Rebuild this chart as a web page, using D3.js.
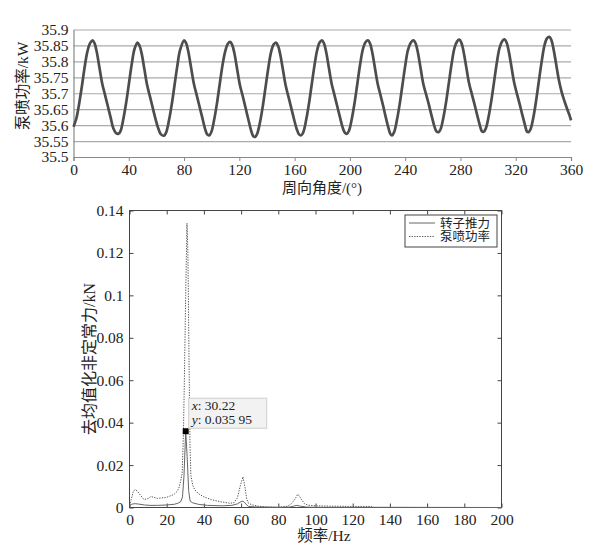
<!DOCTYPE html>
<html><head><meta charset="utf-8">
<script src="https://cdn.jsdelivr.net/npm/d3@7"></script>
<style>
body{margin:0;background:#fff;}
svg{display:block;}
text{font-family:"Liberation Serif","Times New Roman","Noto Sans CJK SC",serif;fill:#222;}
.cjk{font-family:"Liberation Serif","Noto Sans CJK SC",serif;}
</style></head>
<body><svg id="c" width="602" height="552"></svg>
<script>
// ---- Top chart data: pump-jet power vs circumferential angle ----
const topAngles = [0,2,4,6,8,10,12,13.8,15.3,16.8,18.8,20.8,22.8,24.8,26.8,28.8,30.8,32.6,
34.1,36.1,38.1,40.1,42.1,44.1,46.3,47.8,49.3,51.3,53.3,55.3,57.3,59.3,61.3,63.3,65.6,
67.1,69.1,71.1,73.1,75.1,77.1,80.1,81.6,83.1,85.1,87.1,89.1,91.1,93.1,95.1,96.6,98.2,
99.7,101.7,103.7,105.7,107.7,109.7,111.7,113.4,114.9,116.4,118.4,120.4,122.4,124.4,126.4,128.4,130,131.5,
133,135,137,139,141,143,144.8,146.5,148,149.5,151.5,153.5,155.5,157.5,159.5,161.5,163.2,164.8,
166.3,168.3,170.3,172.3,174.3,176.3,178.1,179.8,181.3,182.8,184.8,186.8,188.8,190.8,192.8,194.8,196.4,197.9,
199.4,201.4,203.4,205.4,207.4,209.4,211.3,213.1,214.6,216.1,218.1,220.1,222.1,224.1,226.1,228.1,229.3,230.5,
232,234,236,238,240,242,244.3,246.1,247.6,249.1,251.1,253.1,255.1,257.1,259.1,261.1,262.7,264.2,
265.7,267.7,269.7,271.7,273.7,275.7,277.5,279.2,280.7,282.2,284.2,286.2,288.2,290.2,292.2,294.2,295.5,296.8,
298.3,300.3,302.3,304.3,306.3,308.3,310.2,311.9,313.4,314.9,316.9,318.9,320.9,322.9,324.9,326.9,328.1,329.3,
330.8,332.8,334.8,336.8,338.8,340.8,342.6,344.3,345.8,347.3,349.3,351.3,353.3,355.3,357.3,359,360];
const topPower = [35.595,35.62,35.665,35.72,35.78,35.83,35.857,35.866,35.856,35.83,35.78,35.73,35.695,35.66,35.625,35.59,35.575,35.573,
35.582,35.62,35.67,35.73,35.79,35.838,35.859,35.849,35.825,35.775,35.725,35.69,35.655,35.62,35.59,35.571,35.567,
35.578,35.615,35.665,35.725,35.785,35.835,35.866,35.856,35.83,35.78,35.73,35.695,35.66,35.625,35.59,35.572,35.568,
35.578,35.615,35.665,35.725,35.785,35.83,35.855,35.861,35.851,35.826,35.776,35.726,35.692,35.656,35.62,35.585,35.566,35.563,
35.574,35.61,35.66,35.72,35.78,35.83,35.853,35.859,35.849,35.824,35.775,35.725,35.69,35.655,35.62,35.588,35.571,35.568,
35.578,35.615,35.665,35.725,35.785,35.835,35.859,35.866,35.856,35.83,35.78,35.73,35.695,35.66,35.625,35.592,35.576,35.573,
35.583,35.62,35.67,35.73,35.79,35.838,35.86,35.866,35.856,35.83,35.78,35.73,35.695,35.66,35.622,35.588,35.572,35.568,
35.578,35.615,35.665,35.725,35.785,35.835,35.86,35.866,35.856,35.83,35.78,35.73,35.697,35.665,35.63,35.597,35.58,35.578,
35.588,35.625,35.675,35.735,35.795,35.842,35.862,35.868,35.858,35.832,35.782,35.732,35.698,35.665,35.63,35.597,35.581,35.579,
35.589,35.625,35.675,35.735,35.795,35.842,35.863,35.869,35.859,35.833,35.783,35.733,35.698,35.665,35.63,35.597,35.58,35.578,
35.588,35.625,35.678,35.74,35.8,35.85,35.872,35.877,35.867,35.84,35.79,35.74,35.703,35.675,35.65,35.63,35.615];
const topXTicks = [0,40,80,120,160,200,240,280,320,360];
const topYTicks = [35.5,35.55,35.6,35.65,35.7,35.75,35.8,35.85,35.9];

// ---- Bottom chart data: spectra ----
const thrustFreq = [0,1,2,3,5,8,11,15,20,24,26,27.5,28.5,29.3,30.22,31,31.8,32.6,34,37,42,50,55,58,60,61,62,63,64,67,72,80,86,88,90,92,95,100,130,200];
const thrustVal = [0.0005,0.0015,0.0017,0.0018,0.0016,0.0012,0.001,0.001,0.0012,0.0015,0.002,0.0027,0.005,0.015,0.03595,0.024,0.008,0.003,0.0022,0.0015,0.001,0.0008,0.001,0.0017,0.0028,0.003,0.0022,0.0012,0.0005,0.0003,0.0002,0.0001,0.0002,0.0006,0.001,0.0006,0.0002,0.0001,0.0001,0];
const powerFreq = [0,1,2,3,4,5,7,8,10,11.5,13,15,17,20,22,24,25.5,26.5,27.5,28.3,29,29.5,30.2,30.9,31.4,32,32.5,33,34,35,37,40,44,49,54,56,58,59.5,61,62,63,64,66,70,75,80,85,87,89,90.5,92,94,96,100,110,120,130,131,150,200];
const powerVal = [0.001,0.004,0.0075,0.0085,0.0078,0.0068,0.0045,0.0038,0.0042,0.0052,0.0048,0.0043,0.0045,0.0048,0.0055,0.0062,0.0075,0.009,0.0125,0.016,0.035,0.06,0.1,0.134,0.12,0.07,0.03,0.015,0.0105,0.0085,0.0065,0.005,0.0037,0.0027,0.002,0.0022,0.0045,0.01,0.0145,0.01,0.004,0.002,0.0012,0.0005,0.0002,0.0001,0.0006,0.0018,0.004,0.0063,0.0045,0.0018,0.0011,0.0008,0.0006,0.0005,0.0005,0,0,0];
const botXTicks = [0,20,40,60,80,100,120,140,160,180,200];
const botYTicks = [0,0.02,0.04,0.06,0.08,0.1,0.12,0.14];
const legendNames = ["转子推力","泵喷功率"];
const tipPoint = {x:30.22, y:0.03595, labelX:"30.22", labelY:"0.035 95"};

const svg = d3.select("#c");

// ================= TOP CHART =================
const T = {l:73.5, r:571, t:29.5, b:157};
const tx = d3.scaleLinear().domain([0,360]).range([T.l,T.r]);
const ty = d3.scaleLinear().domain([35.5,35.9]).range([T.b,T.t]);
const gTop = svg.append("g");

gTop.append("g").attr("transform",`translate(${T.l},0)`)
  .call(d3.axisLeft(ty).tickValues(topYTicks).tickSize(-(T.r-T.l)).tickFormat(""))
  .call(g=>g.select(".domain").remove())
  .call(g=>g.selectAll("line").attr("stroke","#aaaaaa").attr("stroke-width",1.2));
gTop.append("g").attr("transform",`translate(${T.l},0)`)
  .call(d3.axisLeft(ty).tickValues(topYTicks).tickSize(0).tickPadding(5).tickFormat(d=>String(d)))
  .call(g=>g.select(".domain").attr("stroke","#888").attr("stroke-width",1.2))
  .call(g=>g.selectAll("text").attr("font-size",15.5).attr("fill","#222").attr("font-family","Liberation Serif"));
gTop.append("g").attr("transform",`translate(0,${T.b})`)
  .call(d3.axisBottom(tx).tickValues(topXTicks).tickSize(4).tickPadding(3).tickFormat(d=>String(d)))
  .call(g=>g.select(".domain").attr("stroke","#888").attr("stroke-width",1.2))
  .call(g=>g.selectAll("line").attr("stroke","#888"))
  .call(g=>g.selectAll("text").attr("font-size",15.5).attr("fill","#222").attr("font-family","Liberation Serif"));

const topData = topAngles.map((a,i)=>[a,topPower[i]]);
gTop.append("path").datum(topData)
  .attr("fill","none").attr("stroke","#4d4d4d").attr("stroke-width",2.7).attr("stroke-linejoin","round")
  .attr("d", d3.line().x(d=>tx(d[0])).y(d=>ty(d[1])).curve(d3.curveCatmullRom));

gTop.append("text").attr("class","cjk").attr("x",322).attr("y",193).attr("text-anchor","middle")
  .attr("font-size",15).text("周向角度/(°)");
gTop.append("text").attr("class","cjk").attr("transform","translate(28,86) rotate(-90)").attr("text-anchor","middle")
  .attr("font-size",15.5).text("泵喷功率/kW");

// ================= BOTTOM CHART =================
const B = {l:129.5, r:501.5, t:210.5, b:507.5};
const bx = d3.scaleLinear().domain([0,200]).range([B.l,B.r]);
const by = d3.scaleLinear().domain([0,0.14]).range([B.b,B.t]);
const gB = svg.append("g");

gB.append("rect").attr("x",B.l).attr("y",B.t).attr("width",B.r-B.l).attr("height",B.b-B.t)
  .attr("fill","none").attr("stroke","#444").attr("stroke-width",1);

const styleAx = g=>{g.select(".domain").remove();
  g.selectAll("line").attr("stroke","#444");
  g.selectAll("text").attr("font-size",15.5).attr("fill","#222").attr("font-family","Liberation Serif");};
gB.append("g").attr("transform",`translate(0,${B.b})`)
  .call(d3.axisBottom(bx).tickValues(botXTicks).tickSizeInner(-4).tickSizeOuter(0).tickPadding(6).tickFormat(d=>String(d))).call(styleAx);
gB.append("g").attr("transform",`translate(0,${B.t})`)
  .call(d3.axisTop(bx).tickValues(botXTicks).tickSizeInner(-4).tickSizeOuter(0).tickFormat("")).call(styleAx);
gB.append("g").attr("transform",`translate(${B.l},0)`)
  .call(d3.axisLeft(by).tickValues(botYTicks).tickSizeInner(-4).tickSizeOuter(0).tickPadding(6).tickFormat(d=>String(d))).call(styleAx);
gB.append("g").attr("transform",`translate(${B.r},0)`)
  .call(d3.axisRight(by).tickValues(botYTicks).tickSizeInner(-4).tickSizeOuter(0).tickFormat("")).call(styleAx);

const lineB = d3.line().x(d=>bx(d[0])).y(d=>by(d[1]));
gB.append("path").datum(powerFreq.map((f,i)=>[f,powerVal[i]]))
  .attr("fill","none").attr("stroke","#555").attr("stroke-width",1).attr("stroke-dasharray","1.3,1.3")
  .attr("d",lineB);
gB.append("path").datum(thrustFreq.map((f,i)=>[f,thrustVal[i]]))
  .attr("fill","none").attr("stroke","#666").attr("stroke-width",1)
  .attr("d",lineB);

// data tip
const mx = bx(tipPoint.x), my = by(tipPoint.y);
gB.append("rect").attr("x",mx-3).attr("y",my-3).attr("width",6).attr("height",6).attr("fill","#000");
const tip = gB.append("g");
tip.append("rect").attr("x",mx+3).attr("y",my-33).attr("width",78).attr("height",30)
  .attr("fill","#f2f2f2").attr("stroke","#cfcfcf").attr("stroke-width",1);
const t1 = tip.append("text").attr("x",mx+6).attr("y",my-21).attr("font-size",13.5);
t1.append("tspan").attr("font-style","italic").text("x");
t1.append("tspan").text(": "+tipPoint.labelX);
const t2 = tip.append("text").attr("x",mx+6).attr("y",my-7.5).attr("font-size",13.5);
t2.append("tspan").attr("font-style","italic").text("y");
t2.append("tspan").text(": "+tipPoint.labelY);

// legend
const lg = gB.append("g");
lg.append("rect").attr("x",405).attr("y",215).attr("width",92).attr("height",32)
  .attr("fill","#fff").attr("stroke","#444").attr("stroke-width",1);
const styles = [{dash:null,c:"#666"},{dash:"1.3,1.3",c:"#555"}];
legendNames.forEach((n,i)=>{
  const yy = 223 + i*13.5;
  lg.append("line").attr("x1",409).attr("x2",435).attr("y1",yy).attr("y2",yy)
    .attr("stroke",styles[i].c).attr("stroke-width",1).attr("stroke-dasharray",styles[i].dash);
  lg.append("text").attr("class","cjk").attr("x",440).attr("y",yy+4.5).attr("font-size",12.5).text(n);
});

gB.append("text").attr("class","cjk").attr("x",324).attr("y",541).attr("text-anchor","middle")
  .attr("font-size",15.5).text("频率/Hz");
gB.append("text").attr("class","cjk").attr("transform",`translate(95,${(B.t+B.b)/2}) rotate(-90)`).attr("text-anchor","middle")
  .attr("font-size",16).text("去均值化非定常力/kN");
</script></body></html>
